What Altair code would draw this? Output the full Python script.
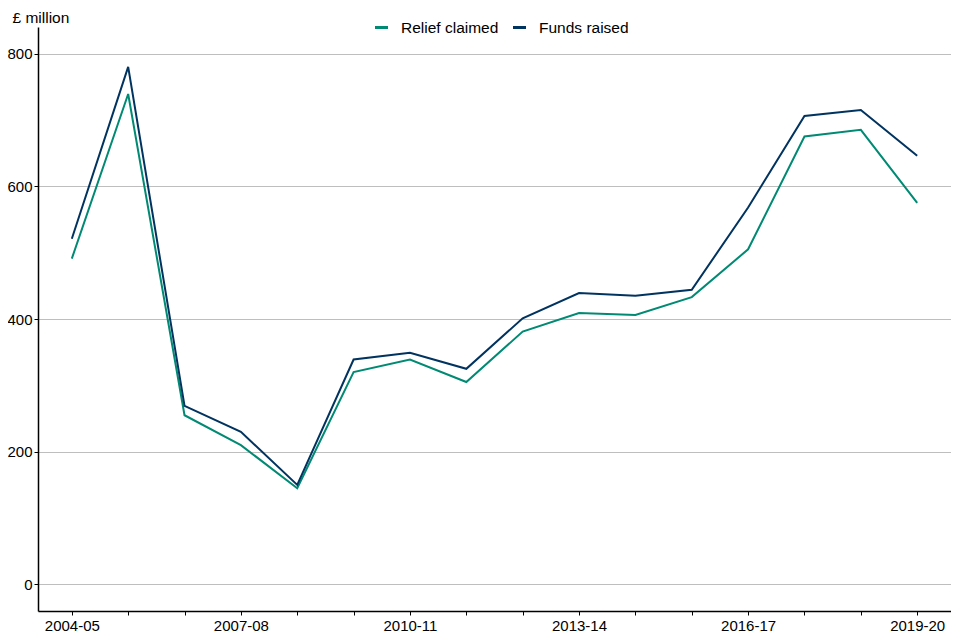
import altair as alt
import pandas as pd

years = ["2004-05", "2005-06", "2006-07", "2007-08", "2008-09", "2009-10", "2010-11",
         "2011-12", "2012-13", "2013-14", "2014-15", "2015-16", "2016-17", "2017-18",
         "2018-19", "2019-20"]
relief_claimed = [491, 739, 255, 210, 145, 320, 339, 305, 381, 409, 406, 433, 505, 675, 685, 575]
funds_raised = [521, 780, 269, 230, 150, 339, 349, 325, 401, 439, 435, 444, 568, 706, 715, 646]
series_names = ["Relief claimed", "Funds raised"]
series_colors = ["#008A73", "#00335F"]
shown_labels = ["2004-05", "2007-08", "2010-11", "2013-14", "2016-17", "2019-20"]

rows = []
for name, vals in zip(series_names, [relief_claimed, funds_raised]):
    for y, v in zip(years, vals):
        rows.append({"year": y, "value": v, "series": name})
df = pd.DataFrame(rows)

label_list = ",".join("'" + s + "'" for s in shown_labels)
label_expr = f"indexof([{label_list}], datum.value) >= 0 ? datum.value : ''"

font = "Liberation Sans"

chart = alt.Chart(df).mark_line(strokeWidth=2).encode(
    x=alt.X("year:O", sort=years,
            scale=alt.Scale(type="point", padding=0.6),
            axis=alt.Axis(title=None, labelAngle=0, labelExpr=label_expr,
                          grid=False, domainColor="black", tickColor="black",
                          tickSize=4, labelFont=font, labelFontSize=15,
                          labelColor="black", labelPadding=3, domainWidth=1.5)),
    y=alt.Y("value:Q",
            scale=alt.Scale(domain=[-40, 840], nice=False, zero=False),
            axis=alt.Axis(values=[0, 200, 400, 600, 800], title="£ million",
                          titleAngle=0, titleX=-26, titleY=-10, titleAlign="left",
                          titleBaseline="middle", titleFont=font, titleFontSize=15.5,
                          titleFontWeight="normal", titleColor="black",
                          grid=True, gridColor="#bebebe", gridWidth=1,
                          domainColor="black", tickColor="black", tickSize=4,
                          labelFont=font, labelFontSize=15, labelColor="black",
                          labelPadding=2, domainWidth=1.5)),
    color=alt.Color("series:N",
                    scale=alt.Scale(domain=series_names, range=series_colors),
                    legend=alt.Legend(title=None, orient="none", direction="horizontal",
                                      legendX=335, legendY=-8,
                                      symbolType="stroke", symbolSize=170,
                                      symbolStrokeWidth=3, labelFont=font,
                                      labelFontSize=15.5, labelColor="black",
                                      labelOffset=11, columnPadding=7)),
).properties(
    width=913,
    height=584,
    autosize=alt.AutoSizeParams(type="none"),
    padding={"left": 30, "top": 19, "right": 0, "bottom": 21},
).configure_view(stroke=None)

chart.save("out.html", embed_options={"renderer": "svg", "actions": False})
